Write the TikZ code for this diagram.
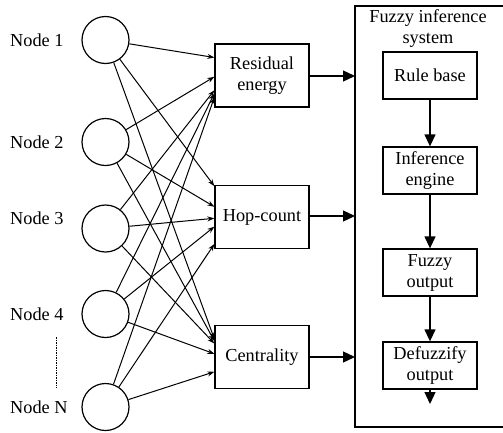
\documentclass[tikz,border=0pt]{standalone}
\usepackage{fontspec}
\setmainfont{Liberation Serif}
\usetikzlibrary{arrows.meta,calc}

\tikzset{
  txt/.style={font=\fontsize{18.3}{21}\selectfont},
  srcnode/.style={circle, draw, line width=1.2pt, minimum size=47pt, inner sep=0pt},
  nodelabel/.style={txt, anchor=west, inner sep=0pt},
  featbox/.style={draw, line width=1.3pt, minimum width=94pt, minimum height=63pt,
                  inner sep=2pt, align=center, txt},
  fisbox/.style={draw, line width=1.3pt, minimum width=94pt, minimum height=47pt,
                 inner sep=2pt, align=center, txt},
  link/.style={line width=1pt, -{Stealth[length=7pt,width=5pt]}},
  flow/.style={line width=1.3pt, -{Triangle[length=12pt,width=11pt]}}
}

\begin{document}
\begin{tikzpicture}[x=1pt,y=-1pt]
  \useasboundingbox (0,0) rectangle (503,432);

  % input nodes and their labels
  \node[srcnode] (n1) at (105.5,40) {};
  \node[srcnode] (n2) at (105.5,142) {};
  \node[srcnode] (n3) at (105.5,228.5) {};
  \node[srcnode] (n4) at (105.5,314) {};
  \node[srcnode] (nN) at (105.5,407) {};

  \node[nodelabel] (l1) at (10,40) {Node 1};
  \node[nodelabel] (l2) at (10,142) {Node 2};
  \node[nodelabel] (l3) at (10,218) {Node 3};
  \node[nodelabel] (l4) at (10,314) {Node 4};
  \node[nodelabel] (lN) at (10,407) {Node N};
  \coordinate (dotA) at (56,337);
  \coordinate (dotB) at (56,388);
  \draw[line width=0.8pt, dash pattern=on 1.5pt off 1pt] (dotA) -- (dotB);

  % feature boxes
  \node[featbox] (res) at (262,75.5) {Residual\\energy};
  \node[featbox] (hop) at (262,217) {Hop-count};
  \node[featbox] (cen) at (262,357) {Centrality};

  % entry points on the left edges of the feature boxes
  \coordinate (r1) at ($(res.north west)!0.22!(res.south west)$);
  \coordinate (r2) at ($(res.north west)!0.52!(res.south west)$);
  \coordinate (r3) at ($(res.north west)!0.73!(res.south west)$);
  \coordinate (r4) at ($(res.north west)!0.78!(res.south west)$);
  \coordinate (r5) at ($(res.north west)!0.84!(res.south west)$);
  \coordinate (h1) at ($(hop.north west)!0.02!(hop.south west)$);
  \coordinate (h2) at ($(hop.north west)!0.34!(hop.south west)$);
  \coordinate (h3) at ($(hop.north west)!0.52!(hop.south west)$);
  \coordinate (h4) at ($(hop.north west)!0.65!(hop.south west)$);
  \coordinate (h5) at ($(hop.north west)!0.92!(hop.south west)$);
  \coordinate (c1) at ($(cen.north west)!0.22!(cen.south west)$);
  \coordinate (c2) at ($(cen.north west)!0.25!(cen.south west)$);
  \coordinate (c3) at ($(cen.north west)!0.29!(cen.south west)$);
  \coordinate (c4) at ($(cen.north west)!0.45!(cen.south west)$);
  \coordinate (c5) at ($(cen.north west)!0.73!(cen.south west)$);

  % every input node feeds every feature box
  \draw[link] (n1) -- (r1);
  \draw[link] (n1) -- (h1);
  \draw[link] (n1) -- (c1);
  \draw[link] (n2) -- (r2);
  \draw[link] (n2) -- (h2);
  \draw[link] (n2) -- (c2);
  \draw[link] (n3) -- (r3);
  \draw[link] (n3) -- (h3);
  \draw[link] (n3) -- (c3);
  \draw[link] (n4) -- (r4);
  \draw[link] (n4) -- (h4);
  \draw[link] (n4) -- (c4);
  \draw[link] (nN) -- (r5);
  \draw[link] (nN) -- (h5);
  \draw[link] (nN) -- (c5);

  % fuzzy inference system frame (open on the right)
  \coordinate (fisTL) at (355,6);
  \coordinate (fisBL) at (355,427);
  \draw[line width=1.3pt] (503,6) -- (fisTL) -- (fisBL) -- (503,427);
  \node[txt, align=center, inner sep=0pt] (fistitle) at (428,29)
    {Fuzzy inference\\system};

  \coordinate (inR) at (355,76);
  \coordinate (inH) at (355,216);
  \coordinate (inC) at (355,357);
  \draw[flow] (res.east |- inR) -- (inR);
  \draw[flow] (hop.east |- inH) -- (inH);
  \draw[flow] (cen.east |- inC) -- (inC);

  % inference chain
  \node[fisbox] (rule) at (430,75.5) {Rule base};
  \node[fisbox] (inf) at (430,170.5) {Inference\\engine};
  \node[fisbox] (fout) at (430,272.5) {Fuzzy\\output};
  \node[fisbox] (defz) at (430,365.5) {Defuzzify\\output};
  \coordinate (outEnd) at (430,404);

  \draw[flow] (rule) -- (inf);
  \draw[flow] (inf) -- (fout);
  \draw[flow] (fout) -- (defz);
  \draw[flow] (defz) -- (outEnd);
\end{tikzpicture}
\end{document}
